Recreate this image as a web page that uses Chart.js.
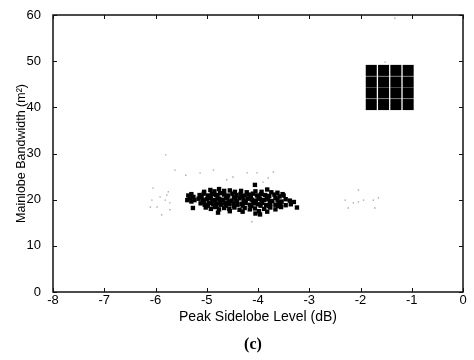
<!DOCTYPE html>
<html>
<head>
<meta charset="utf-8">
<script src="https://cdn.jsdelivr.net/npm/chart.js@4.4.1/dist/chart.umd.min.js"></script>
<style>
  html, body { margin: 0; padding: 0; background: #fff; }
  canvas { display: block; }
</style>
</head>
<body>
<canvas id="psl" width="474" height="360"></canvas>
<script>
// axis ticks
const xTicks = [-8, -7, -6, -5, -4, -3, -2, -1, 0];
const yTicks = [0, 10, 20, 30, 40, 50, 60];

// 4x4 block of big squares (top right)
const gridPsl = [-1.79, -1.55, -1.31, -1.07];
const gridBw = [48.0, 45.5, 43.1, 40.6];

// dense cluster of small black squares
const clusterPoints = [
    [-5.36, 20.9], [-5.30, 21.2], [-5.33, 20.3], [-5.26, 20.6], [-5.24, 19.9], [-5.30, 19.6], [-5.38, 19.9], [-5.27, 18.2],
    [-5.05, 21.7], [-4.93, 22.1], [-4.85, 21.8], [-4.76, 22.3], [-4.66, 21.9], [-4.55, 22.0], [-4.45, 21.7], [-4.33, 21.9],
    [-4.22, 21.6], [-4.06, 23.2], [-4.05, 21.8], [-3.93, 21.7], [-3.82, 22.2], [-3.74, 21.6], [-3.62, 21.5], [-3.52, 21.2],
    [-5.14, 21.0], [-5.06, 21.3], [-4.98, 20.9], [-4.90, 21.2], [-4.82, 21.0], [-4.74, 21.4], [-4.66, 21.1], [-4.58, 20.9],
    [-4.50, 21.3], [-4.42, 21.0], [-4.34, 21.2], [-4.26, 20.9], [-4.18, 21.1], [-4.10, 21.3], [-4.02, 20.9], [-3.94, 21.2],
    [-3.86, 21.0], [-3.78, 20.8], [-3.68, 21.1], [-3.58, 20.7], [-3.50, 20.9],
    [-5.10, 20.6], [-4.95, 20.5], [-4.79, 20.7], [-4.62, 20.6], [-4.47, 20.5], [-4.31, 20.7], [-4.14, 20.6], [-3.99, 20.5],
    [-3.83, 20.6], [-3.66, 20.4],
    [-5.16, 20.2], [-5.08, 19.9], [-5.00, 20.1], [-4.92, 20.3], [-4.84, 19.9], [-4.76, 20.2], [-4.68, 20.0], [-4.60, 20.3],
    [-4.52, 19.8], [-4.44, 20.1], [-4.36, 20.3], [-4.28, 19.9], [-4.20, 20.2], [-4.12, 20.0], [-4.04, 19.8], [-3.96, 20.2],
    [-3.88, 19.9], [-3.80, 20.1], [-3.72, 19.7], [-3.62, 20.0], [-3.54, 19.6], [-3.46, 20.1], [-3.38, 19.8], [-3.30, 19.5],
    [-5.06, 19.6], [-4.89, 19.5], [-4.73, 19.6], [-4.57, 19.5], [-4.41, 19.6], [-4.25, 19.5], [-4.09, 19.6], [-3.93, 19.5],
    [-3.77, 19.5], [-3.60, 19.4],
    [-5.12, 19.2], [-5.04, 18.9], [-4.96, 19.3], [-4.88, 19.0], [-4.80, 19.2], [-4.72, 18.9], [-4.64, 19.3], [-4.56, 19.0],
    [-4.48, 19.2], [-4.40, 18.9], [-4.32, 19.1], [-4.24, 19.3], [-4.16, 18.9], [-4.08, 19.2], [-4.00, 19.0], [-3.92, 19.3],
    [-3.84, 18.8], [-3.76, 19.1], [-3.66, 18.9], [-3.56, 19.2], [-3.46, 18.8], [-3.36, 19.0], [-3.24, 18.3],
    [-4.98, 18.7], [-4.81, 18.6], [-4.63, 18.7], [-4.47, 18.6], [-4.30, 18.7], [-4.13, 18.6], [-3.95, 18.7], [-3.79, 18.6],
    [-3.61, 18.6],
    [-5.02, 18.3], [-4.92, 18.0], [-4.84, 18.4], [-4.76, 17.9], [-4.66, 18.2], [-4.56, 18.0], [-4.46, 18.3], [-4.36, 17.8],
    [-4.26, 18.2], [-4.16, 17.9], [-4.06, 18.1], [-3.98, 17.5], [-3.88, 18.0], [-3.76, 18.3], [-3.66, 17.9], [-3.55, 18.4],
    [-4.78, 17.2], [-4.55, 17.5], [-4.30, 17.4], [-4.05, 17.0], [-3.96, 16.8], [-3.82, 17.4]
];

// faint grey dots scattered around
const faintPoints = [
    [-5.80, 29.7], [-5.62, 26.4], [-5.41, 25.3], [-5.13, 25.8], [-4.87, 26.4], [-4.61, 24.3], [-4.49, 24.9],
    [-4.21, 25.8], [-4.02, 25.8], [-3.90, 23.8], [-3.70, 26.0], [-3.80, 24.7],
    [-6.05, 22.5], [-5.91, 20.6], [-5.81, 19.9], [-5.75, 21.7], [-5.72, 19.3], [-5.97, 18.4], [-5.88, 16.7],
    [-5.72, 17.8], [-6.10, 18.4], [-5.78, 21.0], [-6.07, 19.9],
    [-2.30, 19.9], [-2.24, 18.2], [-2.04, 22.1], [-2.04, 19.5], [-1.94, 19.9], [-1.75, 19.9], [-1.72, 18.2],
    [-1.65, 20.4], [-2.14, 19.3],
    [-1.33, 59.3], [-1.52, 49.8], [-4.12, 15.2]
];

const gridPoints = [];
gridBw.forEach(y => gridPsl.forEach(x => gridPoints.push({ x: x, y: y })));

const toXY = arr => arr.map(p => ({ x: p[0], y: p[1] }));

// box + inward ticks on all four sides, matlab style
const boxPlugin = {
    id: 'box',
    afterDraw(chart) {
        const { ctx, chartArea: a, scales } = chart;
        ctx.save();
        ctx.strokeStyle = '#111';
        ctx.lineWidth = 1.5;
        ctx.strokeRect(a.left, a.top, a.right - a.left, a.bottom - a.top);
        ctx.lineWidth = 1;
        ctx.beginPath();
        xTicks.forEach(v => {
            const px = Math.round(scales.x.getPixelForValue(v)) + 0.5;
            ctx.moveTo(px, a.bottom); ctx.lineTo(px, a.bottom - 4);
            ctx.moveTo(px, a.top); ctx.lineTo(px, a.top + 4);
        });
        yTicks.forEach(v => {
            const py = Math.round(scales.y.getPixelForValue(v)) + 0.5;
            ctx.moveTo(a.left, py); ctx.lineTo(a.left + 4, py);
            ctx.moveTo(a.right, py); ctx.lineTo(a.right - 4, py);
        });
        ctx.stroke();
        // figure caption
        ctx.fillStyle = '#000';
        ctx.font = 'bold 16px "Liberation Serif", serif';
        ctx.textAlign = 'center';
        ctx.textBaseline = 'middle';
        ctx.fillText('(c)', (a.left + a.right) / 2 - 5, 345);
        ctx.restore();
    }
};

new Chart(document.getElementById('psl'), {
    type: 'scatter',
    data: {
        datasets: [
            {
                label: 'faint',
                data: toXY(faintPoints),
                pointStyle: 'rect',
                pointRadius: 1,
                backgroundColor: '#aaa',
                borderWidth: 0
            },
            {
                label: 'cluster',
                data: toXY(clusterPoints),
                pointStyle: 'rect',
                pointRadius: 3.1,
                backgroundColor: '#000',
                borderWidth: 0
            },
            {
                label: 'grid',
                data: gridPoints,
                pointStyle: 'rect',
                pointRadius: 7.8,
                backgroundColor: '#000',
                borderWidth: 0
            }
        ]
    },
    options: {
        responsive: false,
        animation: false,
        devicePixelRatio: 1,
        layout: { padding: { top: 15, right: 11, bottom: 0, left: 0 } },
        plugins: {
            legend: { display: false },
            tooltip: { enabled: false }
        },
        scales: {
            x: {
                type: 'linear',
                min: -8,
                max: 0,
                afterFit: s => { s.height = 68; },
                afterBuildTicks: s => { s.ticks = xTicks.map(v => ({ value: v })); },
                grid: { display: false },
                border: { display: false },
                ticks: {
                    color: '#000',
                    padding: -7,
                    font: { family: '"Liberation Sans", Arial, sans-serif', size: 13 },
                    callback: v => v
                },
                title: {
                    display: true,
                    text: 'Peak Sidelobe Level (dB)',
                    color: '#000',
                    font: { family: '"Liberation Sans", Arial, sans-serif', size: 14 },
                    padding: { top: 0, bottom: 34 }
                }
            },
            y: {
                type: 'linear',
                min: 0,
                max: 60,
                afterFit: s => { s.width = 53; },
                afterBuildTicks: s => { s.ticks = yTicks.map(v => ({ value: v })); },
                grid: { display: false },
                border: { display: false },
                ticks: {
                    color: '#000',
                    padding: 4,
                    font: { family: '"Liberation Sans", Arial, sans-serif', size: 13 },
                    callback: v => v
                },
                title: {
                    display: true,
                    text: 'Mainlobe Bandwidth (m²)',
                    color: '#000',
                    font: { family: '"Liberation Sans", Arial, sans-serif', size: 12.5 },
                    padding: { top: 14, bottom: 0 }
                }
            }
        }
    },
    plugins: [boxPlugin]
});
</script>
</body>
</html>
